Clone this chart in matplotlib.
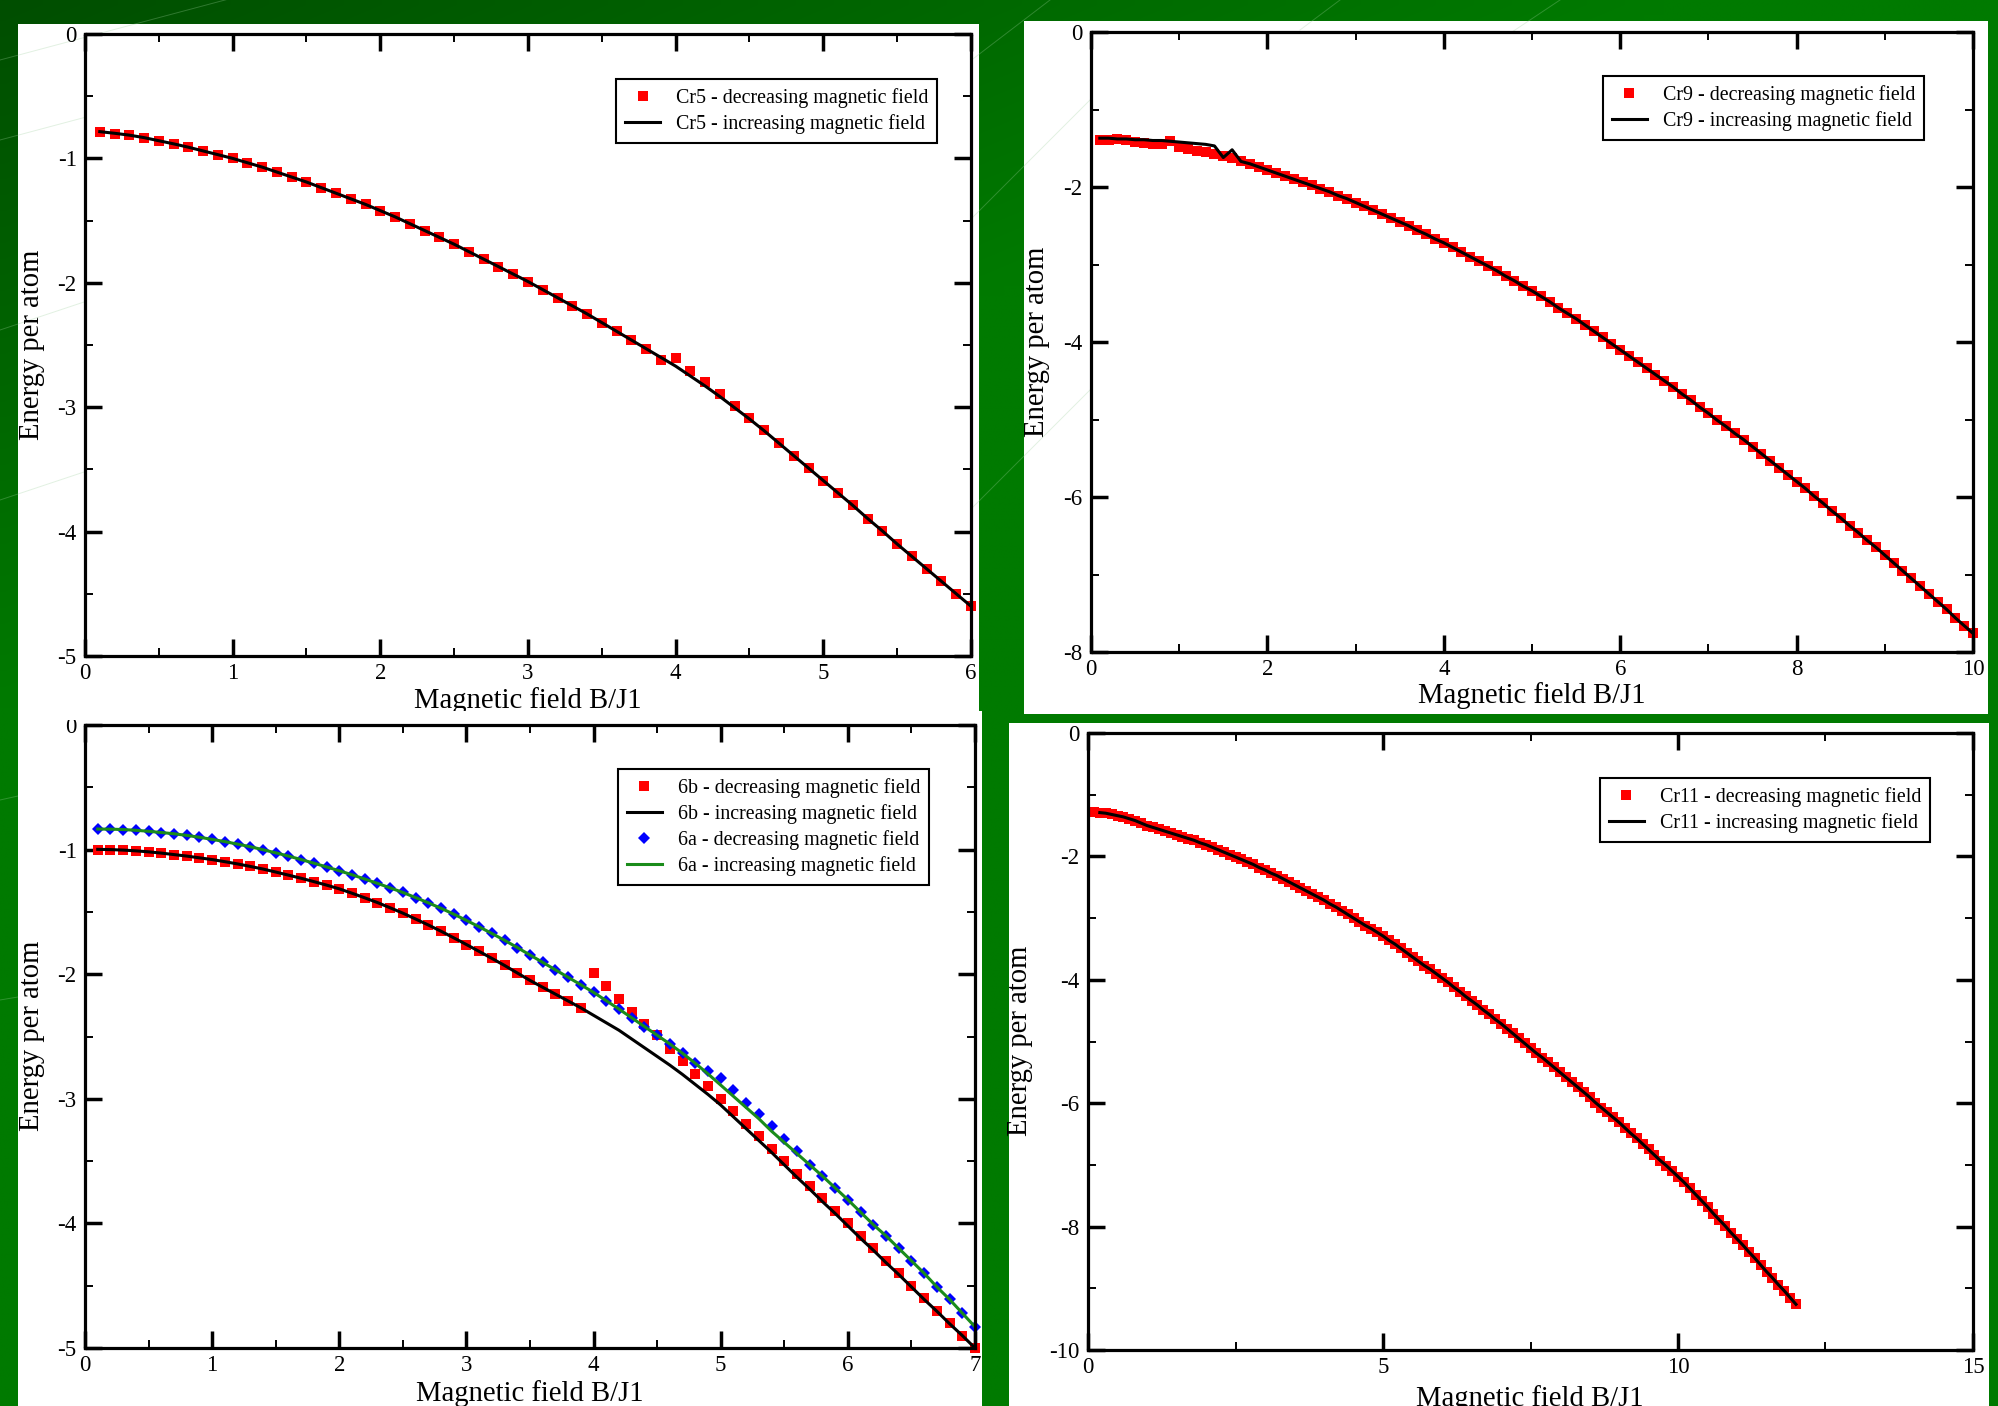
import numpy as np
import matplotlib
matplotlib.use("Agg")
import matplotlib.pyplot as plt
from matplotlib.patches import Rectangle
from matplotlib.ticker import MultipleLocator, FormatStrFormatter
from matplotlib.transforms import Bbox, TransformedBbox

plt.rcParams['font.family'] = ['Liberation Serif', 'DejaVu Serif']
plt.rcParams['axes.unicode_minus'] = False

# ---------------- data ----------------
# Cr5 (field grid 0.1 .. 6.0, step 0.1)
cr5_x = np.round(np.arange(1, 61) * 0.1, 1)
cr5_dec = [-0.790, -0.800, -0.815, -0.835, -0.860, -0.885, -0.910, -0.940, -0.970, -1.000,
           -1.035, -1.070, -1.110, -1.150, -1.190, -1.235, -1.280, -1.325, -1.370, -1.420,
           -1.470, -1.525, -1.580, -1.635, -1.690, -1.750, -1.810, -1.870, -1.930, -1.990,
           -2.055, -2.120, -2.185, -2.250, -2.320, -2.390, -2.460, -2.530, -2.620, -2.605,
           -2.710, -2.800, -2.895, -2.990, -3.085, -3.185, -3.290, -3.390, -3.490, -3.590,
           -3.690, -3.790, -3.895, -3.995, -4.100, -4.200, -4.300, -4.400, -4.500, -4.600]
cr5_inc = [-0.785, -0.798, -0.813, -0.833, -0.858, -0.883, -0.910, -0.940, -0.970, -1.000,
           -1.035, -1.070, -1.110, -1.150, -1.190, -1.235, -1.280, -1.325, -1.370, -1.420,
           -1.470, -1.525, -1.580, -1.635, -1.690, -1.750, -1.810, -1.870, -1.930, -1.990,
           -2.055, -2.120, -2.185, -2.250, -2.320, -2.390, -2.460, -2.530, -2.600, -2.670,
           -2.750, -2.830, -2.915, -3.005, -3.095, -3.190, -3.290, -3.390, -3.490, -3.590,
           -3.690, -3.790, -3.895, -3.995, -4.100, -4.200, -4.300, -4.400, -4.500, -4.600]

# Cr9 (field grid 0.1 .. 10.0, step 0.1)
cr9_x = np.round(np.arange(1, 101) * 0.1, 1)
cr9_dec = [-1.39, -1.39, -1.38, -1.39, -1.42, -1.43, -1.44, -1.45, -1.40, -1.49,
           -1.51, -1.53, -1.55, -1.57, -1.60, -1.63, -1.66, -1.70, -1.74, -1.78,
           -1.82, -1.86, -1.90, -1.94, -1.98, -2.02, -2.06, -2.11, -2.15, -2.20,
           -2.25, -2.30, -2.35, -2.40, -2.45, -2.50, -2.56, -2.61, -2.67, -2.72,
           -2.78, -2.84, -2.90, -2.96, -3.02, -3.08, -3.15, -3.21, -3.28, -3.34,
           -3.41, -3.48, -3.56, -3.63, -3.70, -3.78, -3.86, -3.94, -4.02, -4.10,
           -4.18, -4.26, -4.34, -4.42, -4.50, -4.58, -4.67, -4.75, -4.84, -4.92,
           -5.01, -5.09, -5.18, -5.26, -5.35, -5.44, -5.53, -5.62, -5.71, -5.80,
           -5.89, -5.99, -6.08, -6.18, -6.27, -6.37, -6.46, -6.56, -6.65, -6.75,
           -6.85, -6.95, -7.05, -7.15, -7.25, -7.35, -7.45, -7.56, -7.66, -7.76]
cr9_inc = [-1.37, -1.37, -1.38, -1.38, -1.39, -1.39, -1.40, -1.40, -1.41, -1.42,
           -1.43, -1.44, -1.45, -1.47, -1.62, -1.52, -1.67, -1.70, -1.74, -1.78,
           -1.82, -1.86, -1.90, -1.94, -1.98, -2.02, -2.06, -2.11, -2.15, -2.20,
           -2.25, -2.30, -2.35, -2.40, -2.45, -2.50, -2.56, -2.61, -2.67, -2.72,
           -2.78, -2.84, -2.90, -2.96, -3.02, -3.08, -3.15, -3.21, -3.28, -3.34,
           -3.41, -3.48, -3.56, -3.63, -3.70, -3.78, -3.86, -3.94, -4.02, -4.10,
           -4.18, -4.26, -4.34, -4.42, -4.50, -4.58, -4.67, -4.75, -4.84, -4.92,
           -5.01, -5.09, -5.18, -5.26, -5.35, -5.44, -5.53, -5.62, -5.71, -5.80,
           -5.89, -5.99, -6.08, -6.18, -6.27, -6.37, -6.46, -6.56, -6.65, -6.75,
           -6.85, -6.95, -7.05, -7.15, -7.25, -7.35, -7.45, -7.56, -7.66, -7.76]

# 6b / 6a (field grid 0.1 .. 7.0, step 0.1)
c6_x = np.round(np.arange(1, 71) * 0.1, 1)
b6_dec = [-1.000, -1.002, -1.006, -1.012, -1.020, -1.030, -1.041, -1.053, -1.066, -1.080,
          -1.097, -1.115, -1.135, -1.156, -1.180, -1.205, -1.230, -1.257, -1.285, -1.315,
          -1.350, -1.387, -1.425, -1.467, -1.510, -1.557, -1.605, -1.655, -1.708, -1.762,
          -1.817, -1.873, -1.930, -1.990, -2.050, -2.105, -2.160, -2.215, -2.270, -1.990,
          -2.095, -2.197, -2.300, -2.400, -2.490, -2.600, -2.700, -2.800, -2.900, -3.000,
          -3.100, -3.200, -3.300, -3.400, -3.500, -3.600, -3.700, -3.800, -3.900, -4.000,
          -4.100, -4.200, -4.300, -4.400, -4.500, -4.600, -4.700, -4.800, -4.900, -5.000]
b6_inc = [-0.998, -1.000, -1.004, -1.010, -1.018, -1.028, -1.040, -1.052, -1.066, -1.080,
          -1.097, -1.115, -1.135, -1.156, -1.180, -1.205, -1.230, -1.257, -1.285, -1.315,
          -1.350, -1.387, -1.425, -1.467, -1.510, -1.557, -1.605, -1.655, -1.708, -1.762,
          -1.817, -1.873, -1.930, -1.990, -2.050, -2.105, -2.160, -2.215, -2.270, -2.330,
          -2.390, -2.450, -2.520, -2.590, -2.660, -2.730, -2.805, -2.885, -2.965, -3.050,
          -3.145, -3.240, -3.335, -3.430, -3.530, -3.630, -3.725, -3.825, -3.920, -4.020,
          -4.120, -4.215, -4.315, -4.410, -4.510, -4.610, -4.705, -4.805, -4.900, -5.000]
a6_dec = [-0.835, -0.836, -0.839, -0.845, -0.853, -0.863, -0.873, -0.886, -0.901, -0.918,
          -0.936, -0.956, -0.977, -1.001, -1.026, -1.052, -1.080, -1.109, -1.139, -1.170,
          -1.202, -1.236, -1.271, -1.307, -1.344, -1.385, -1.427, -1.471, -1.518, -1.568,
          -1.620, -1.673, -1.728, -1.786, -1.846, -1.905, -1.965, -2.025, -2.085, -2.146,
          -2.213, -2.280, -2.350, -2.420, -2.490, -2.560, -2.635, -2.715, -2.780, -2.830,
          -2.930, -3.030, -3.120, -3.220, -3.320, -3.420, -3.530, -3.620, -3.715, -3.810,
          -3.910, -4.010, -4.100, -4.200, -4.300, -4.400, -4.510, -4.610, -4.720, -4.830]
a6_inc = [-0.835, -0.836, -0.839, -0.845, -0.853, -0.863, -0.873, -0.886, -0.901, -0.918,
          -0.936, -0.956, -0.977, -1.001, -1.026, -1.052, -1.080, -1.109, -1.139, -1.170,
          -1.202, -1.236, -1.271, -1.307, -1.344, -1.385, -1.427, -1.471, -1.518, -1.568,
          -1.620, -1.673, -1.728, -1.786, -1.846, -1.905, -1.965, -2.025, -2.085, -2.146,
          -2.213, -2.280, -2.350, -2.420, -2.490, -2.560, -2.635, -2.715, -2.800, -2.890,
          -2.980, -3.070, -3.160, -3.260, -3.350, -3.440, -3.530, -3.620, -3.715, -3.810,
          -3.910, -4.010, -4.100, -4.200, -4.300, -4.400, -4.510, -4.610, -4.720, -4.830]

# Cr11 (field grid 0.1 .. 12.0, step 0.1); increasing curve starts at 0.2
cr11_x = np.round(np.arange(1, 121) * 0.1, 1)
cr11_dec = [-1.28, -1.29, -1.30, -1.32, -1.34, -1.36, -1.39, -1.42, -1.46, -1.50,
            -1.53, -1.56, -1.59, -1.62, -1.65, -1.68, -1.71, -1.74, -1.78, -1.81,
            -1.85, -1.89, -1.93, -1.97, -2.01, -2.05, -2.09, -2.13, -2.18, -2.22,
            -2.27, -2.31, -2.36, -2.41, -2.46, -2.51, -2.56, -2.61, -2.66, -2.71,
            -2.77, -2.82, -2.88, -2.94, -3.00, -3.06, -3.12, -3.17, -3.23, -3.29,
            -3.36, -3.42, -3.49, -3.56, -3.63, -3.70, -3.77, -3.83, -3.90, -3.97,
            -4.04, -4.12, -4.19, -4.27, -4.34, -4.41, -4.49, -4.56, -4.64, -4.71,
            -4.79, -4.87, -4.95, -5.03, -5.11, -5.19, -5.26, -5.34, -5.42, -5.50,
            -5.58, -5.66, -5.74, -5.82, -5.90, -5.99, -6.07, -6.15, -6.23, -6.31,
            -6.40, -6.49, -6.57, -6.66, -6.75, -6.84, -6.93, -7.01, -7.10, -7.19,
            -7.28, -7.38, -7.48, -7.58, -7.68, -7.79, -7.89, -7.99, -8.10, -8.20,
            -8.30, -8.41, -8.51, -8.62, -8.73, -8.83, -8.94, -9.04, -9.15, -9.26]
cr11_inc_x = cr11_x[1:]
cr11_inc = cr11_dec[1:]

AXIS_LABEL_X = 'Magnetic field B/J1'
AXIS_LABEL_Y = 'Energy per atom'

# ---------------- figure ----------------
W, H = 1999, 1406
fig = plt.figure(figsize=(W / 100, H / 100), dpi=100)


def fx(px):
    return px / W


def fy(py):
    return 1 - py / H


def rect_axes(l, t, r, b):
    return [fx(l), fy(b), (r - l) / W, (b - t) / H]


# background (green gradient + faint texture lines)
bg = fig.add_axes([0, 0, 1, 1])
bg.set_xlim(0, W)
bg.set_ylim(H, 0)
bg.axis('off')
gx, gy = np.meshgrid(np.linspace(0, 1, 200), np.linspace(0, 1, 140))
t = np.clip(gx * 1.2 + gy * 2.0, 0, 1)
img = np.zeros((140, 200, 3))
img[..., 1] = (78 + 44 * t) / 255
bg.imshow(img, extent=[0, W, H, 0], aspect='auto', interpolation='bilinear')
for (x0, y0, x1, y1) in [(0, 60, 300, -20), (0, 140, 150, 100), (0, 330, 90, 300),
                         (0, 500, 90, 470), (0, 800, 90, 780), (0, 1000, 90, 985),
                         (880, 130, 1050, 0), (930, 260, 1100, 90), (960, 520, 1100, 380),
                         (1300, 30, 1340, 0), (1500, 40, 1560, 0)]:
    bg.plot([x0, x1], [y0, y1], color='#9fd09f', lw=0.7, alpha=0.3)
bg.add_patch(Rectangle((18, 24), 961, 740, fc='white', ec='none'))
bg.add_patch(Rectangle((1024, 21), 964, 693, fc='white', ec='none'))


def style(ax, xlim, ylim, xmaj, xmin, ymaj, ymin):
    ax.set_xlim(*xlim)
    ax.set_ylim(*ylim)
    ax.xaxis.set_major_locator(MultipleLocator(xmaj))
    ax.xaxis.set_minor_locator(MultipleLocator(xmin))
    ax.yaxis.set_major_locator(MultipleLocator(ymaj))
    ax.yaxis.set_minor_locator(MultipleLocator(ymin))
    ax.xaxis.set_major_formatter(FormatStrFormatter('%g'))
    ax.yaxis.set_major_formatter(FormatStrFormatter('%g'))
    ax.tick_params(which='both', direction='in', top=True, right=True,
                   labelsize=16.5, colors='black')
    ax.tick_params(which='major', length=12, width=2.5)
    ax.tick_params(which='minor', length=6, width=1.4)
    ax.tick_params(axis='x', which='major', pad=5)
    ax.tick_params(axis='y', which='major', pad=6)
    for s in ax.spines.values():
        s.set_linewidth(2.3)


def labels(ax, xc, xy, yx, yc):
    ax.text(fx(xc), fy(xy), AXIS_LABEL_X, transform=fig.transFigure,
            ha='center', va='center', fontsize=20.6)
    ax.text(fx(yx), fy(yc), AXIS_LABEL_Y, transform=fig.transFigure,
            ha='center', va='center', rotation=90, fontsize=20.6)


def legend(ax, lx, ly):
    leg = ax.legend(loc='upper left', bbox_to_anchor=(fx(lx), fy(ly)),
                    bbox_transform=fig.transFigure, borderaxespad=0,
                    frameon=True, fancybox=False, edgecolor='black', framealpha=1,
                    fontsize=14.4, handlelength=1.75, handletextpad=0.8,
                    borderpad=0.45, labelspacing=0.3, numpoints=1)
    leg.get_frame().set_linewidth(1.5)


# ---- panel 1: Cr5 ----
ax1 = fig.add_axes(rect_axes(85, 34, 971, 656))
ax1.plot(cr5_x, cr5_dec, ls='none', marker='s', ms=6.5, mew=0, color='#ff0000',
         label='Cr5 - decreasing magnetic field', clip_on=False)
ax1.plot(cr5_x, cr5_inc, color='black', lw=2.2,
         label='Cr5 - increasing magnetic field')
style(ax1, (0, 6), (-5, 0), 1, 0.5, 1, 0.5)
labels(ax1, 528, 701, 32, 345)
legend(ax1, 616, 79)

# ---- panel 2: Cr9 ----
ax2 = fig.add_axes(rect_axes(1091, 32, 1973, 652))
ax2.plot(cr9_x, cr9_dec, ls='none', marker='s', ms=7.5, mew=0, color='#ff0000',
         label='Cr9 - decreasing magnetic field', clip_on=False)
ax2.plot(cr9_x, cr9_inc, color='black', lw=2.2,
         label='Cr9 - increasing magnetic field')
style(ax2, (0, 10), (-8, 0), 2, 1, 2, 1)
labels(ax2, 1532, 696, 1037, 342)
legend(ax2, 1603, 76)

# second background layer (lower panels overlap the upper ones)
bg2 = fig.add_axes([0, 0, 1, 1])
bg2.set_xlim(0, W)
bg2.set_ylim(H, 0)
bg2.axis('off')
bg2.add_patch(Rectangle((18, 711), 964, 700, fc='white', ec='none'))
bg2.add_patch(Rectangle((1009, 723), 980, 700, fc='white', ec='none'))

# ---- panel 3: 6b / 6a ----
ax3 = fig.add_axes(rect_axes(85, 725, 975, 1348))
ax3.plot(c6_x, b6_dec, ls='none', marker='s', ms=6.5, mew=0, color='#ff0000',
         label='6b - decreasing magnetic field', clip_on=False)
ax3.plot(c6_x, b6_inc, color='black', lw=2.2,
         label='6b - increasing magnetic field')
ax3.plot(c6_x, a6_dec, ls='none', marker='D', ms=6.3, mew=0, color='#0000ff',
         label='6a - decreasing magnetic field', clip_on=False)
ax3.plot(c6_x, a6_inc, color='#1a8c1a', lw=2.2,
         label='6a - increasing magnetic field')
style(ax3, (0, 7), (-5, 0), 1, 0.5, 1, 0.5)
labels(ax3, 530, 1394, 32, 1036)
legend(ax3, 618, 769)
# the lower-left picture is cropped just above its top tick label
clipbox = TransformedBbox(Bbox.from_extents(0, 0, 1, fy(720)), fig.transFigure)
for tk in ax3.yaxis.get_major_ticks():
    tk.label1.set_clip_box(clipbox)
    tk.label1.set_clip_on(True)

# ---- panel 4: Cr11 ----
ax4 = fig.add_axes(rect_axes(1088, 733, 1973, 1350))
ax4.plot(cr11_x, cr11_dec, ls='none', marker='s', ms=7, mew=0, color='#ff0000',
         label='Cr11 - decreasing magnetic field')
ax4.plot(cr11_inc_x, cr11_inc, color='black', lw=2.2,
         label='Cr11 - increasing magnetic field')
style(ax4, (0, 15), (-10, 0), 5, 2.5, 2, 1)
labels(ax4, 1530, 1399, 1020, 1041)
legend(ax4, 1600, 778)

fig.savefig('out.png', dpi=100)
